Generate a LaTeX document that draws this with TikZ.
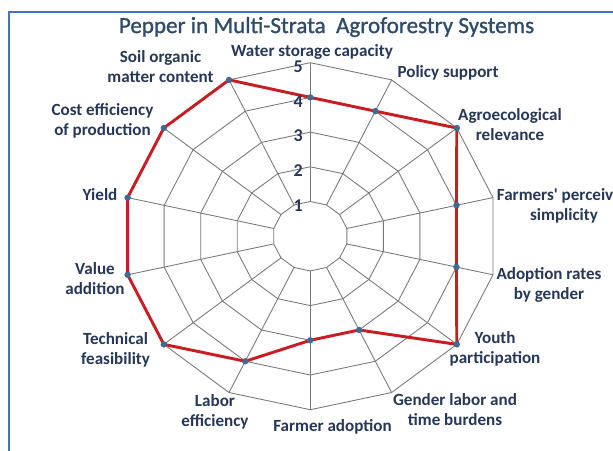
\documentclass[tikz,border=0pt]{standalone}
\usepackage{fontspec}
\setmainfont{Carlito}
\newfontfamily\titlefont[FakeBold=1.2]{Carlito}
\usepackage{xcolor}
\usetikzlibrary{calc}

\definecolor{gridgray}{RGB}{120,120,120}
\definecolor{scorered}{RGB}{200,30,35}
\definecolor{dotblue}{RGB}{62,106,148}
\definecolor{labelnavy}{RGB}{38,55,88}
\definecolor{titleslate}{RGB}{47,77,107}
\definecolor{frameblue}{RGB}{68,114,196}

\tikzset{
	grid line/.style = {draw = gridgray, line width = 0.65pt},
	score line/.style = {draw = scorered, line width = 2.2pt, line join = round},
	score dot/.style = {circle, fill = dotblue, inner sep = 0pt, minimum size = 4.8pt},
	axis label/.style = {font = \bfseries\fontsize{12.8}{15}\selectfont, text = labelnavy, align = center, inner sep = 0pt},
	level label/.style = {font = \bfseries\fontsize{13.5}{13.5}\selectfont, text = labelnavy, inner sep = 0pt},
	title text/.style = {font = \titlefont\fontsize{17.3}{20}\selectfont, text = titleslate, inner sep = 0pt}
}

\begin{document}
\begin{tikzpicture}[x = 0.75pt, y = -0.75pt]
		\def\ringgap{34.7};
		\def\stretch{1.08};
		\def\naxes{14};
		
		\useasboundingbox (0,0) rectangle (613,450);
		\fill [white] (0,0) rectangle (613,450);
		\draw [frameblue, line width = 1.5pt] (8.5,470) -- (8.5,11.5) -- (630,11.5);
		
		\coordinate (chart centre) at (310.3,236.2);
		
		\begin{scope}[shift = {(chart centre)}, xscale = \stretch, yscale = -1]
			%rings
			\foreach \L in {1,...,5}
				\draw [grid line] (90:{\L*\ringgap}) \foreach \k in {1,...,13} { -- ({90-\k*360/\naxes}:{\L*\ringgap}) } -- cycle;
			%spokes
			\foreach \k in {0,...,13}
				\draw [grid line] ({90-\k*360/\naxes}:\ringgap) -- ({90-\k*360/\naxes}:{5*\ringgap});
			%scores
			\foreach \v [count = \k from 0] in {4,4,5,4,4,5,3,3,4,5,5,5,5,5}
				\coordinate (score \k) at ({90-\k*360/\naxes}:{\v*\ringgap});
		\end{scope}
		
		\draw [score line] (score 0) \foreach \k in {1,...,13} { -- (score \k) } -- cycle;
		\foreach \k in {0,...,13}
			\node [score dot] (dot \k) at (score \k) {};
		
		\foreach \L in {1,...,5}
			\node [level label] (level \L) at ($ (chart centre) + (-12,{4-\L*\ringgap}) $) {\L};
		
		%labels
		\node [title text] (chart title) at (326.5,27) {Pepper in Multi-Strata\ \ Agroforestry Systems};
		\node [axis label] (water label) at (312,52) {Water storage capacity};
		\node [axis label] (policy label) at (448,73) {Policy support};
		\node [axis label] (agro label) at (510,125) {Agroecological\\relevance};
		\node [axis label] (farmers label) at (564,206) {Farmers\textquotesingle{} perceiv\phantom{ed}\\simplicity};
		\node [axis label] (adoption label) at (549,285) {Adoption rates\\by gender};
		\node [axis label] (youth label) at (495,349) {Youth\\participation};
		\node [axis label] (gender label) at (455,410) {Gender labor and\\time burdens};
		\node [axis label] (farmer label) at (332.5,427) {Farmer adoption};
		\node [axis label] (labor label) at (215,412) {Labor\\efficiency};
		\node [axis label] (technical label) at (115.5,350) {Technical\\feasibility};
		\node [axis label] (value label) at (95,279) {Value\\addition};
		\node [axis label] (yield label) at (100,195) {Yield};
		\node [axis label] (cost label) at (102.5,121) {Cost efficiency\\of production};
		\node [axis label] (soil label) at (160.5,66.3) {Soil organic\\matter content};
	\end{tikzpicture}
\end{document}
